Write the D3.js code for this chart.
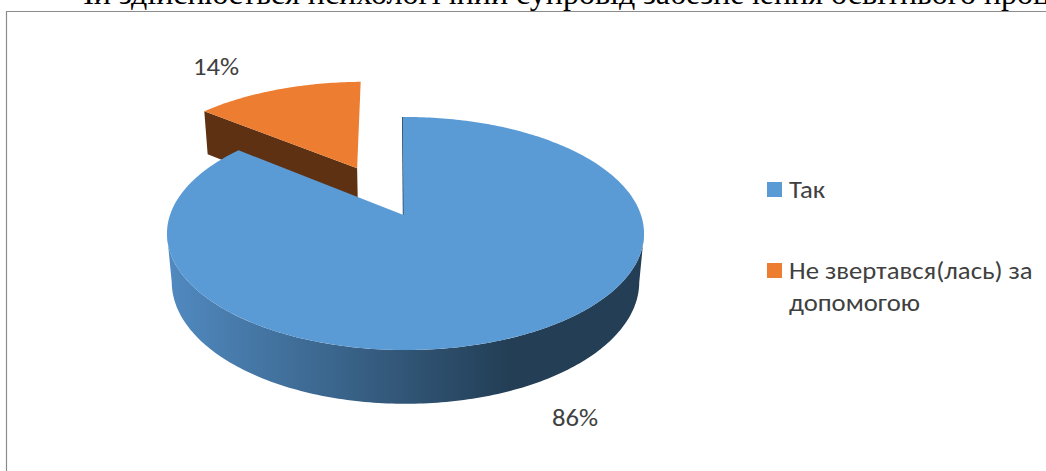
<!DOCTYPE html>
<html><head><meta charset="utf-8">
<script src="https://cdn.jsdelivr.net/npm/d3@7/dist/d3.min.js"></script>
<style>
html,body{margin:0;padding:0;background:#fff;overflow:hidden}
svg{display:block;position:absolute;left:0;top:0}
</style></head><body>
<svg id="c" width="1046" height="471"></svg>
<script>
const categories = ["Так", "Не звертався(лась) за допомогою"];
const values = [86, 14];
const valueLabels = ["86%", "14%"];
const heading = "Чи здійснюється психологічний супровід забезпечення освітнього процесу";
const topColors = ["#5b9bd5", "#ed7d31"];
const sideColors = ["#5089bf", "#233e55"];
const wallColor = "#5e3113";
const textColor = "#404040";

const W = 1046, H = 471;
const svg = d3.select("#c");
const sx = d3.scaleLinear().domain([-1, 1]).range([405.5 - 235.5, 405.5 + 235.5]);
const sy = d3.scaleLinear().domain([-1, 1]).range([215 - 113.6, 215 + 113.6]);
const tilt = 0.1588, sink = 0.02, thick = 49 / 113.6, burst = 0.49, turn = -0.014;

// disk coords -> screen, z = 0 top rim, z = 1 bottom rim
function proj(u, v, z) {
  const w = 1 - tilt * v + sink * z;
  return [sx(u / w), sy((v + thick * z) / w)];
}
const rim = (t, z, off) => proj(Math.sin(t) + off[0], -Math.cos(t) + off[1], z);
function arcPts(a, b, z, off) {
  const n = Math.max(2, Math.ceil(Math.abs(b - a) * 60));
  return d3.range(n + 1).map(i => rim(a + (b - a) * i / n, z, off));
}
const line = d3.line();
const arcs = d3.pie().sort(null).startAngle(turn).endAngle(2 * Math.PI + turn)(values);

const defs = svg.append("defs");
const grad = defs.append("linearGradient").attr("id", "side").attr("gradientUnits", "userSpaceOnUse")
  .attr("x1", 172).attr("x2", 510).attr("y1", 0).attr("y2", 0);
grad.append("stop").attr("offset", 0).attr("stop-color", sideColors[0]);
grad.append("stop").attr("offset", 1).attr("stop-color", sideColors[1]);

// frame and heading
svg.append("path").attr("d", line([[6.5, H], [6.5, 11.5], [W, 11.5]]))
  .attr("fill", "none").attr("stroke", "#8c8c8c").attr("stroke-width", 1.2);
svg.append("text").attr("x", 73).attr("y", 4).attr("font-family", "Liberation Serif")
  .attr("font-size", 32).attr("fill", "#000").text(heading);

const g = svg.append("g").style("filter", "blur(0.45px)");

// exploded slice
const os = arcs[1], mid = (os.startAngle + os.endAngle) / 2;
const off = [Math.sin(mid) * burst - 0.005, -Math.cos(mid) * burst];
const apex = z => proj(off[0], off[1], z);
g.append("path").attr("d", line([apex(0), rim(os.startAngle, 0, off), rim(os.startAngle, 1, off), apex(1)]) + "Z")
  .attr("fill", wallColor);
g.append("path").attr("d", line([apex(0), ...arcPts(os.startAngle, os.endAngle, 0, off)]) + "Z")
  .attr("fill", topColors[1]);

// main slice
const bs = arcs[0], hub = proj(-0.0085, 0, 0), zero = [0, 0];
const front0 = Math.acos(-tilt), front1 = 2 * Math.PI - front0;
g.append("path").attr("d", line([...arcPts(front0, front1, 0, zero), ...arcPts(front1, front0, 1, zero)]) + "Z")
  .attr("fill", "url(#side)");
g.append("path").attr("d", line([hub, rim(bs.startAngle, 0, zero)]))
  .attr("fill", "none").attr("stroke", sideColors[1]).attr("stroke-width", 1.4);
g.append("path").attr("d", line([hub, ...arcPts(bs.startAngle, bs.endAngle, 0, zero)]) + "Z")
  .attr("fill", topColors[0]);

// data labels
const font = "Carlito, Lato, 'Open Sans', sans-serif";
const lab = svg.append("g").attr("font-family", font).attr("font-size", 24.5).attr("fill", textColor);
const stretch = (x, y) => `translate(${x},${y}) scale(1.09,1)`;
lab.selectAll("text.v").data(valueLabels).join("text").attr("class", "v")
  .attr("transform", (d, i) => stretch([552, 193][i], [426, 75][i])).text(d => d);

// legend
const legendRows = [[categories[0]], ["Не звертався(лась) за", "допомогою"]];
const ly = d3.scalePoint().domain(categories).range([182, 263]);
const leg = lab.selectAll("g.l").data(categories).join("g").attr("class", "l")
  .attr("transform", d => `translate(767,${ly(d)})`);
leg.append("rect").attr("width", 15).attr("height", 15).attr("fill", (d, i) => topColors[i]);
leg.each(function (d, i) {
  d3.select(this).selectAll("text").data(legendRows[i]).join("text")
    .attr("transform", (t, j) => stretch(22, 16 + j * 32)).text(t => t);
});
</script>
</body></html>
